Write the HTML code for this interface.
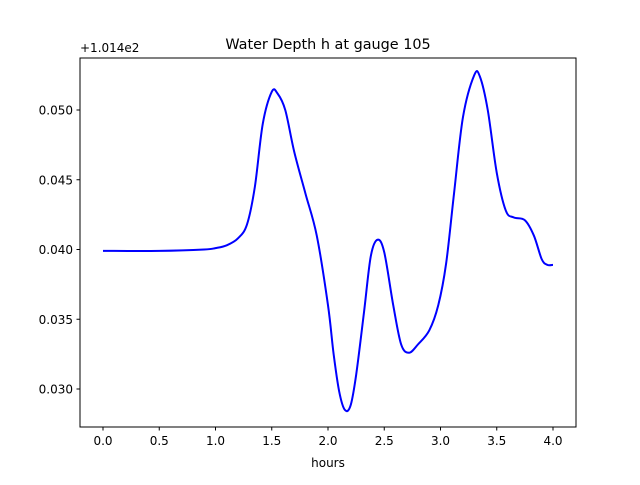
<!DOCTYPE html>
<html><head><meta charset="utf-8"><style>
body{margin:0;background:#fff;}
svg text{font-family:"DejaVu Sans","Liberation Sans",sans-serif;fill:#000;}
</style></head><body>
<svg id="chart" width="640" height="480" xmlns="http://www.w3.org/2000/svg">
<rect width="640" height="480" fill="#fff"/>
<text x="328" y="49" font-size="14.4" text-anchor="middle">Water Depth h at gauge 105</text>
<text x="80" y="52" font-size="12">+1.014e2</text>
<text x="328" y="467" font-size="12" text-anchor="middle">hours</text>
<g id="axes"></g>
<path id="line" fill="none" stroke="#0000ff" stroke-width="2"/>
<rect x="80" y="58" width="496" height="369" fill="none" stroke="#000" stroke-width="1"/>
</svg>
<script>
const hours=[0,0.5,0.9,1.0,1.1,1.2,1.28,1.35,1.42,1.5,1.55,1.62,1.7,1.8,1.9,2.0,2.05,2.1,2.15,2.2,2.25,2.32,2.38,2.44,2.5,2.58,2.65,2.72,2.8,2.9,2.98,3.05,3.12,3.2,3.3,3.35,3.42,3.5,3.58,3.65,3.75,3.83,3.9,3.95,4.0];
const depth=[0.0399,0.0399,0.0400,0.0401,0.0403,0.0408,0.0418,0.0445,0.0490,0.0513,0.0512,0.0500,0.0470,0.0440,0.0410,0.0360,0.0325,0.0298,0.0285,0.0288,0.0310,0.0355,0.0395,0.0407,0.0398,0.0360,0.0332,0.0326,0.0332,0.0342,0.0360,0.0390,0.0440,0.0495,0.0525,0.0524,0.0500,0.0455,0.0428,0.0423,0.0421,0.0410,0.0393,0.0389,0.0389];
const xTicks=[0,0.5,1.0,1.5,2.0,2.5,3.0,3.5,4.0];
const yTicks=[0.030,0.035,0.040,0.045,0.050];
const X=h=>103+h*112.5;
const Y=v=>389-(v-0.030)/0.005*69.75;
const NS="http://www.w3.org/2000/svg";
const g=document.getElementById('axes');
function mk(t,a){const e=document.createElementNS(NS,t);for(const k in a)e.setAttribute(k,a[k]);g.appendChild(e);return e;}
xTicks.forEach(t=>{
 const l=mk('line',{x1:X(t),x2:X(t),y1:427,y2:430.5,stroke:'#000'});
 
 
 const s=mk('text',{x:X(t),y:445,'font-size':12,'text-anchor':'middle'});s.textContent=t.toFixed(1);
 
 
});
yTicks.forEach(t=>{
 const l=mk('line',{x1:76.5,x2:80,y1:Y(t),y2:Y(t),stroke:'#000'});
 
 
 const s=mk('text',{x:73,y:Y(t)+4.5,'font-size':12,'text-anchor':'end'});s.textContent=t.toFixed(3);
 
 
});
const P=hours.map((h,i)=>[X(h),Y(depth[i])]);
let d='M'+P[0][0]+','+P[0][1];
for(let i=0;i<P.length-1;i++){
 const p0=P[Math.max(0,i-1)],p1=P[i],p2=P[i+1],p3=P[Math.min(P.length-1,i+2)];
 const c1=[p1[0]+(p2[0]-p0[0])/6,p1[1]+(p2[1]-p0[1])/6];
 const c2=[p2[0]-(p3[0]-p1[0])/6,p2[1]-(p3[1]-p1[1])/6];
 d+=` C${c1[0]},${c1[1]} ${c2[0]},${c2[1]} ${p2[0]},${p2[1]}`;
}
document.getElementById('line').setAttribute('d',d);
</script>
</body></html>
